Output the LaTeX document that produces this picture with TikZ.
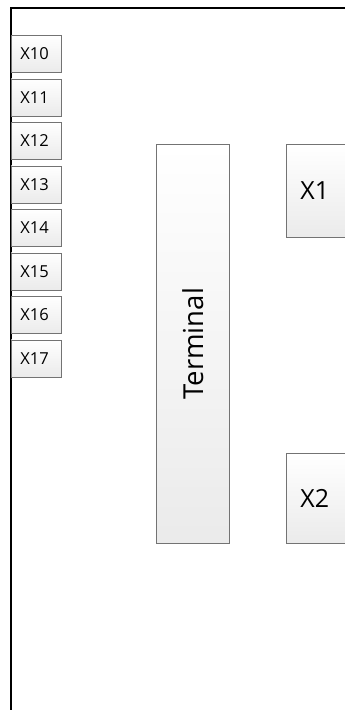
\documentclass[tikz,border=0pt]{standalone}
\usepackage{fontspec}
\setmainfont{Open Sans}
\usetikzlibrary{shadows}
\tikzset{
  x=1pt, y=-1pt,
  unit/.style={draw=black!55, line width=0.7pt,
    top color=white, bottom color=black!8,
    drop shadow={shadow xshift=0.8pt, shadow yshift=-0.8pt, opacity=0.25},
    inner sep=0pt, anchor=north west},
  port/.style={unit, minimum width=49.5pt, minimum height=37pt,
    font=\fontsize{16.5}{18}\selectfont},
  bigbox/.style={unit, font=\fontsize{25}{27}\selectfont},
}
\begin{document}
\begin{tikzpicture}
\useasboundingbox (0,0) rectangle (345,710);
\clip (0,0) rectangle (345,710);
\fill[white] (0,0) rectangle (345,710);
% cabinet outline, running off the right and bottom edges
\draw[line width=2.4pt] (11,800) -- (11,8) -- (420,8);
% connector strip
\foreach \i [count=\k from 0] in {10,...,17}
  \node[port] (x\i) at (11,35+43.5*\k) {\hspace*{-3pt}X\i};
% terminal block
\node[bigbox, minimum width=73pt, minimum height=399pt,
  font=\fontsize{27.5}{30}\selectfont] (term) at (156,144)
  {\rotatebox{90}{Terminal}};
% plug boxes
\node[bigbox, minimum width=90pt, minimum height=93pt, text width=90pt,
  align=left] (x1) at (286,144) {\hspace{14pt}X1};
\node[bigbox, minimum width=90pt, minimum height=90pt, text width=90pt,
  align=left] (x2) at (286,453) {\hspace{14pt}X2};
\end{tikzpicture}
\end{document}
